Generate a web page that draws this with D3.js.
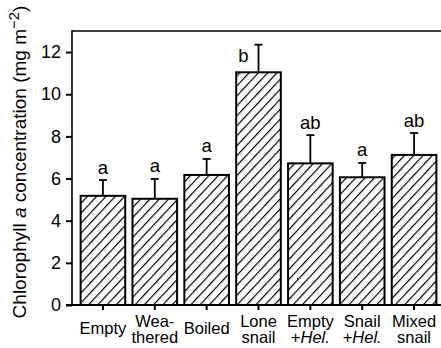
<!DOCTYPE html>
<html lang="en">
<head>
<meta charset="UTF-8">
<title>Chlorophyll a</title>
<script src="https://d3js.org/d3.v7.min.js"></script>
<style>
  body { margin: 0; background: #fff; }
  svg { font-family: "Liberation Sans", Arial, Helvetica, sans-serif; }
  .axis path, .axis line { stroke: #000; stroke-width: 2; }
  .axis text { font-size: 18px; fill: #000; }
</style>
</head>
<body>
<script>

var categories = ["Empty", "Weathered", "Boiled", "Lone snail", "Empty +Hel.", "Snail +Hel.", "Mixed snail"];
var labelLines = [["Empty"], ["Wea-", "thered"], ["Boiled"], ["Lone", "snail"], ["Empty", "+Hel."], ["Snail", "+Hel."], ["Mixed", "snail"]];
var means = [5.18, 5.04, 6.17, 11.04, 6.72, 6.06, 7.12];
var errors = [0.75, 0.94, 0.76, 1.31, 1.34, 0.68, 1.04];
var groups = ["a", "a", "a", "b", "ab", "a", "ab"];
var yTicks = [0, 2, 4, 6, 8, 10, 12];

var W = 441, H = 348;
var plotLeft = 72, plotTop = 31, plotBottom = 305;

var svg = d3.select("body").append("svg")
    .attr("width", W)
    .attr("height", H);

// hatch pattern
var defs = svg.append("defs");
defs.append("pattern")
    .attr("id", "hatch")
    .attr("patternUnits", "userSpaceOnUse")
    .attr("width", 6.8)
    .attr("height", 10)
    .attr("patternTransform", "rotate(43)")
  .append("line")
    .attr("x1", 0).attr("y1", 0)
    .attr("x2", 0).attr("y2", 10)
    .attr("stroke", "#000")
    .attr("stroke-width", 2.4);

var x = d3.scaleBand().domain(categories).range([77, 440]).paddingInner(0.14).paddingOuter(0.07);
var y = d3.scaleLinear().domain([0, 13]).range([plotBottom, plotTop]);

var data = categories.map(function(c, i) {
  return {cat: c, mean: means[i], err: errors[i], group: groups[i], lines: labelLines[i]};
});
function cx(d) { return x(d.cat) + x.bandwidth() / 2; }

// frame (right side runs off the picture)
svg.append("path")
    .attr("d", "M" + plotLeft + "," + plotBottom + "V" + plotTop + "H" + (W + 5))
    .attr("fill", "none")
    .attr("stroke", "#000")
    .attr("stroke-width", 1.6);

// error bars
var eb = svg.selectAll(".err").data(data).enter().append("g").attr("class", "err");
eb.append("line")
    .attr("x1", cx).attr("x2", cx)
    .attr("y1", function(d) { return y(d.mean); })
    .attr("y2", function(d) { return y(d.mean + d.err); })
    .attr("stroke", "#000").attr("stroke-width", 1.8);
eb.append("line")
    .attr("x1", function(d) { return cx(d) - 4; })
    .attr("x2", function(d) { return cx(d) + 4; })
    .attr("y1", function(d) { return y(d.mean + d.err); })
    .attr("y2", function(d) { return y(d.mean + d.err); })
    .attr("stroke", "#000").attr("stroke-width", 1.8);

// bars
svg.selectAll(".bar").data(data).enter().append("rect")
    .attr("class", "bar")
    .attr("x", function(d) { return x(d.cat); })
    .attr("width", x.bandwidth())
    .attr("y", function(d) { return y(d.mean); })
    .attr("height", function(d) { return y(0) - y(d.mean); })
    .attr("fill", "url(#hatch)")
    .attr("stroke", "#000")
    .attr("stroke-width", 2);

// group letters; if there is no room above the cap, put it beside the error bar
svg.selectAll(".grp").data(data).enter().append("text")
    .attr("class", "grp")
    .attr("text-anchor", "middle")
    .style("font-size", "18.5px")
    .attr("x", function(d) {
      return y(d.mean + d.err) - 20 < plotTop ? cx(d) - 15 : cx(d);
    })
    .attr("y", function(d) {
      var yc = y(d.mean + d.err);
      return yc - 20 < plotTop ? yc + 17 : yc - 6.5;
    })
    .text(function(d) { return d.group; });

// y axis
var yAxis = svg.append("g")
    .attr("class", "axis")
    .attr("transform", "translate(" + plotLeft + ",0)")
    .call(d3.axisLeft(y).tickValues(yTicks).tickSize(6).tickPadding(5).tickSizeOuter(0));
yAxis.select(".domain").remove();

// x axis
var xAxis = svg.append("g")
    .attr("class", "axis")
    .attr("transform", "translate(0," + plotBottom + ")")
    .call(d3.axisBottom(x).tickSize(5).tickSizeOuter(0).tickFormat(""));
xAxis.select(".domain").attr("d", "M" + (plotLeft - 6) + ",0H" + (W + 5));

// x labels, one text per line
data.forEach(function(d) {
  d.lines.forEach(function(line, i) {
    var t = svg.append("text")
        .attr("class", "xl")
        .attr("text-anchor", "middle")
        .style("font-size", "16.5px")
        .attr("x", cx(d))
        .attr("y", d.lines.length === 1 ? 333.5 : 327 + i * 15.5);
    if (line.indexOf("Hel.") >= 0) {
      t.append("tspan").text("+");
      t.append("tspan").style("font-style", "italic").text("Hel.");
    } else {
      t.text(line);
    }
  });
});

// y label
var yl = svg.append("text")
    .attr("transform", "translate(26,162) rotate(-90)")
    .attr("text-anchor", "middle")
    .style("font-size", "19px");
yl.append("tspan").text("Chlorophyll ");
yl.append("tspan").style("font-style", "italic").text("a");
yl.append("tspan").text(" concentration (mg m");
yl.append("tspan").attr("dy", -7).style("font-size", "15px").text("\u22122");
yl.append("tspan").attr("dy", 7).text(")");

</script>
</body>
</html>
